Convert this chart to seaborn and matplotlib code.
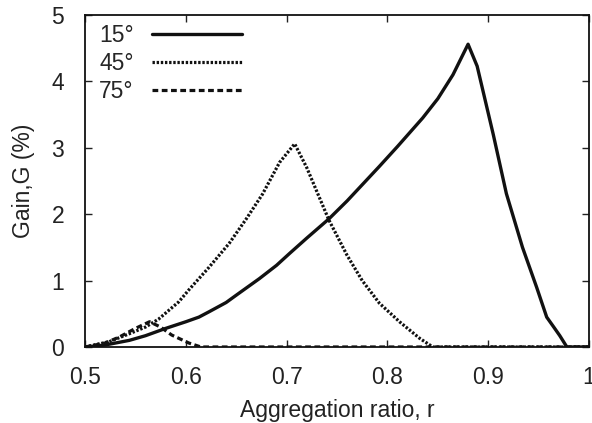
import matplotlib
matplotlib.use("Agg")
import matplotlib.pyplot as plt
import seaborn as sns
import pandas as pd

# Data
x15 = [0.5, 0.52, 0.544, 0.56, 0.58, 0.6, 0.613, 0.623, 0.64, 0.65, 0.673, 0.69, 0.703, 0.72, 0.742, 0.76, 0.792, 0.81, 0.835, 0.85, 0.865, 0.88, 0.889, 0.905, 0.918, 0.934, 0.948, 0.958, 0.965, 0.971, 0.978, 1.0]
y15 = [0.0, 0.03, 0.1, 0.17, 0.28, 0.38, 0.45, 0.53, 0.67, 0.78, 1.03, 1.23, 1.41, 1.64, 1.93, 2.2, 2.72, 3.02, 3.45, 3.74, 4.1, 4.56, 4.23, 3.2, 2.31, 1.50, 0.9, 0.45, 0.3, 0.17, 0.0, 0.0]

x45 = [0.5, 0.524, 0.544, 0.56, 0.573, 0.593, 0.603, 0.623, 0.643, 0.66, 0.676, 0.693, 0.708, 0.72, 0.742, 0.76, 0.775, 0.792, 0.812, 0.832, 0.845, 1.0]
y45 = [0.0, 0.08, 0.2, 0.3, 0.42, 0.68, 0.86, 1.2, 1.56, 1.93, 2.3, 2.78, 3.06, 2.7, 1.91, 1.38, 1.0, 0.66, 0.38, 0.13, 0.0, 0.0]

x75 = [0.5, 0.52, 0.534, 0.55, 0.564, 0.575, 0.586, 0.603, 0.615, 1.0]
y75 = [0.0, 0.06, 0.15, 0.28, 0.38, 0.3, 0.18, 0.06, 0.0, 0.0]

labels = ["15°", "45°", "75°"]
xticks = [0.5, 0.6, 0.7, 0.8, 0.9, 1.0]
xticklabels = ["0.5", "0.6", "0.7", "0.8", "0.9", "1"]
yticks = [0, 1, 2, 3, 4, 5]

sns.set_theme(style="ticks")
plt.rcParams['font.family'] = ['Liberation Sans', 'DejaVu Sans']

FS = 16.5
fig = plt.figure(figsize=(5.92, 4.23), dpi=100)
ax = fig.add_axes([0.1436, 0.1797, 0.995 - 0.1436, 0.9645 - 0.1797])

series = [(x15, y15, labels[0], '-', 2.4),
          (x45, y45, labels[1], (0, (0.75, 0.55)), 2.3),
          (x75, y75, labels[2], (0, (1.8, 1.1)), 2.3)]
for xs, ys, lab, ls, lw in series:
    df = pd.DataFrame({"r": xs, "G": ys})
    sns.lineplot(data=df, x="r", y="G", ax=ax, color="#111111", linestyle=ls,
                 linewidth=lw, label=lab, estimator=None, sort=False)

ax.set_xlim(0.5, 1.0)
ax.set_ylim(0, 5)
ax.set_xticks(xticks)
ax.set_xticklabels(xticklabels)
ax.set_yticks(yticks)
ax.tick_params(direction='in', top=True, right=True, length=5, width=1,
               labelsize=FS, colors='#222222')
ax.tick_params(axis='x', pad=14)
ax.tick_params(axis='y', pad=15)
for s in ax.spines.values():
    s.set_linewidth(1.3)
    s.set_color('#111111')
ax.set_xlabel("Aggregation ratio, r", fontsize=FS, color='#222222', labelpad=7)
ax.set_ylabel("Gain,G (%)", fontsize=FS, color='#222222', labelpad=12)

leg = ax.legend(loc='upper left', frameon=False, markerfirst=False,
                handlelength=3.9, fontsize=FS, labelspacing=0.22,
                borderaxespad=0.0, bbox_to_anchor=(0.01, 1.0), handletextpad=0.8)

fig.savefig("out.png", dpi=100)
